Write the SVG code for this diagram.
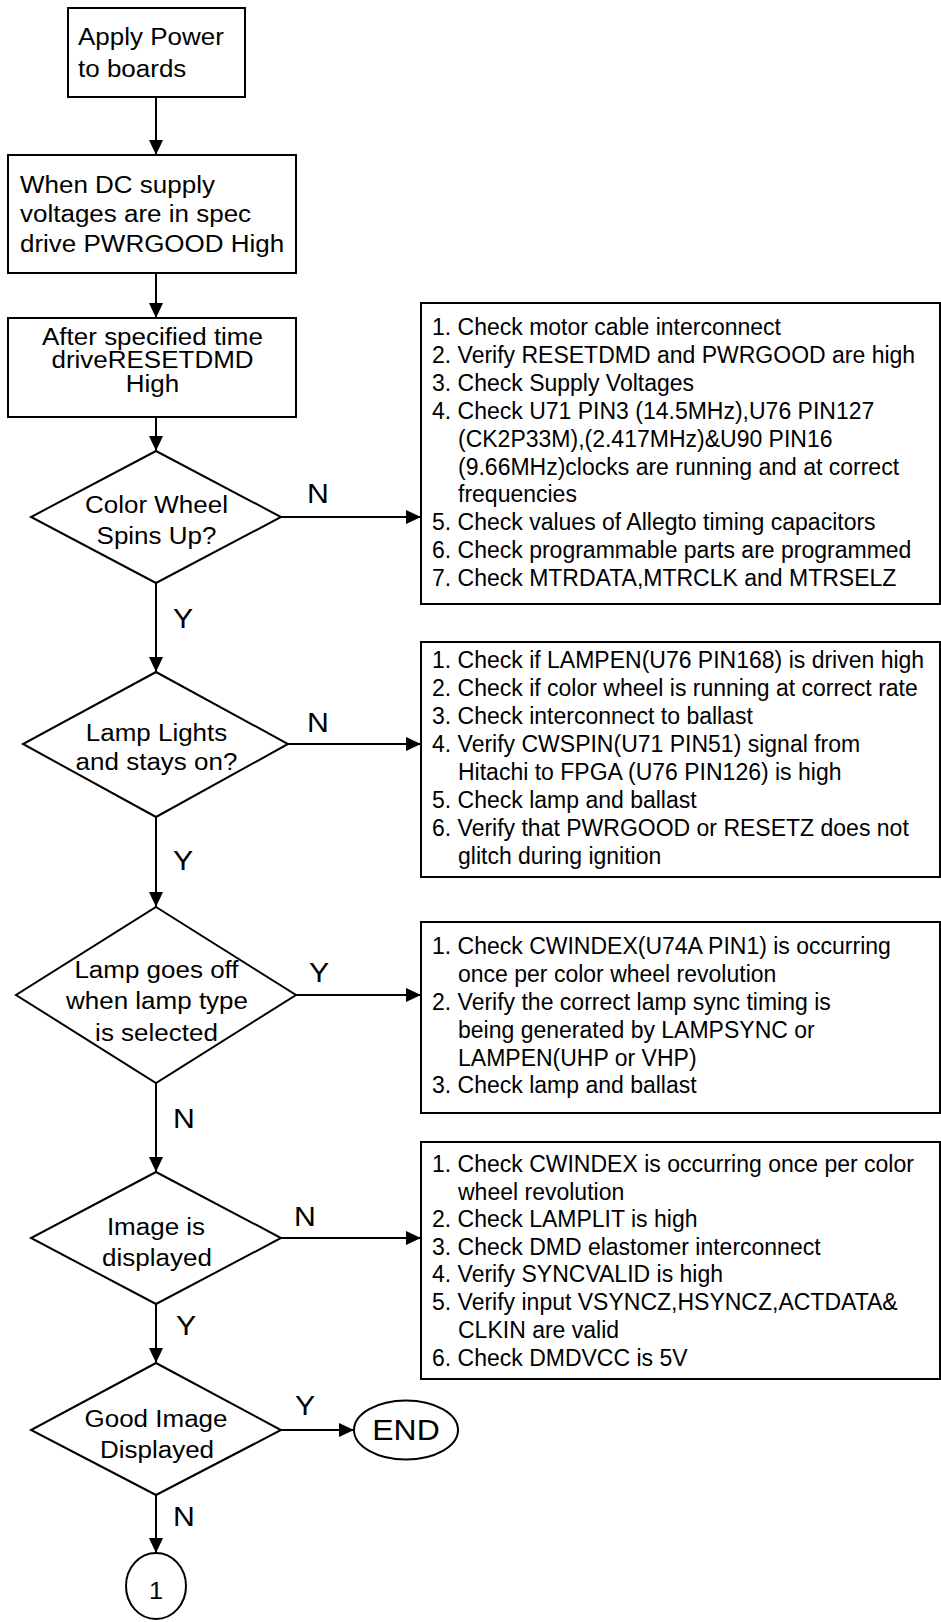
<svg xmlns="http://www.w3.org/2000/svg" width="941" height="1622" viewBox="0 0 941 1622">
<style>
.shape{fill:#fff;stroke:#000;stroke-width:2}
.con{fill:none;stroke:#000;stroke-width:2}
text{font-family:"Liberation Sans",Arial,sans-serif;fill:#000}
.L{font-size:23px}
.c{text-anchor:middle}
.lab{font-size:27px}
.R{font-size:23px}
</style>
<defs>
<marker id="ah" markerUnits="userSpaceOnUse" markerWidth="16" markerHeight="14" refX="15" refY="7" orient="auto">
<path d="M0,0 L15,7 L0,14 z" fill="#000"/>
</marker>
</defs>
<rect width="941" height="1622" fill="#fff"/>
<g id="connectors">
<line class="con" x1="156" y1="97" x2="156" y2="155" marker-end="url(#ah)"/>
<line class="con" x1="156" y1="273" x2="156" y2="318" marker-end="url(#ah)"/>
<line class="con" x1="156" y1="417" x2="156" y2="451" marker-end="url(#ah)"/>
<line class="con" x1="281" y1="517" x2="421" y2="517" marker-end="url(#ah)"/>
<line class="con" x1="156" y1="583" x2="156" y2="672" marker-end="url(#ah)"/>
<line class="con" x1="288" y1="744" x2="421" y2="744" marker-end="url(#ah)"/>
<line class="con" x1="156" y1="817" x2="156" y2="907" marker-end="url(#ah)"/>
<line class="con" x1="296" y1="995" x2="421" y2="995" marker-end="url(#ah)"/>
<line class="con" x1="156" y1="1083" x2="156" y2="1172" marker-end="url(#ah)"/>
<line class="con" x1="281" y1="1238" x2="421" y2="1238" marker-end="url(#ah)"/>
<line class="con" x1="156" y1="1304" x2="156" y2="1363" marker-end="url(#ah)"/>
<line class="con" x1="281" y1="1430" x2="354" y2="1430" marker-end="url(#ah)"/>
<line class="con" x1="156" y1="1495" x2="156" y2="1553" marker-end="url(#ah)"/>
<text class="lab" transform="translate(307,503) scale(1.12,1)">N</text>
<text class="lab" transform="translate(173,628) scale(1.12,1)">Y</text>
<text class="lab" transform="translate(307,732) scale(1.12,1)">N</text>
<text class="lab" transform="translate(173,870) scale(1.12,1)">Y</text>
<text class="lab" transform="translate(309,982) scale(1.12,1)">Y</text>
<text class="lab" transform="translate(173,1128) scale(1.12,1)">N</text>
<text class="lab" transform="translate(294,1226) scale(1.12,1)">N</text>
<text class="lab" transform="translate(176,1335) scale(1.12,1)">Y</text>
<text class="lab" transform="translate(295,1415) scale(1.12,1)">Y</text>
<text class="lab" transform="translate(173,1526) scale(1.12,1)">N</text>
</g>
<g id="start">
<rect class="shape" x="68" y="8" width="177" height="89"/>
<text class="L" transform="translate(78,45) scale(1.13,1)">Apply Power</text>
<text class="L" transform="translate(78,77) scale(1.13,1)">to boards</text>
</g>
<g id="pwrgood">
<rect class="shape" x="8" y="155" width="288" height="118"/>
<text class="L" transform="translate(20,193) scale(1.13,1)">When DC supply</text>
<text class="L" transform="translate(20,222) scale(1.13,1)">voltages are in spec</text>
<text class="L" transform="translate(20,252) scale(1.13,1)">drive PWRGOOD High</text>
</g>
<g id="resetdmd">
<rect class="shape" x="8" y="318" width="288" height="99"/>
<text class="L c" transform="translate(152.5,345) scale(1.13,1)">After specified time</text>
<text class="L c" transform="translate(152.5,368) scale(1.13,1)">driveRESETDMD</text>
<text class="L c" transform="translate(152.5,392) scale(1.13,1)">High</text>
</g>
<g id="dec-colorwheel">
<polygon class="shape" points="156,451 281,517 156,583 31,517"/>
<text class="L c" transform="translate(156.5,513) scale(1.13,1)">Color Wheel</text>
<text class="L c" transform="translate(156.5,544) scale(1.13,1)">Spins Up?</text>
</g>
<g id="dec-lamp">
<polygon class="shape" points="156,672 288,744 156,817 23,744"/>
<text class="L c" transform="translate(156.5,741) scale(1.13,1)">Lamp Lights</text>
<text class="L c" transform="translate(156.5,770) scale(1.13,1)">and stays on?</text>
</g>
<g id="dec-lampoff">
<polygon class="shape" points="156,907 296,995 156,1083 16,995"/>
<text class="L c" transform="translate(156.5,978) scale(1.13,1)">Lamp goes off</text>
<text class="L c" transform="translate(157,1009) scale(1.13,1)">when lamp type</text>
<text class="L c" transform="translate(156.5,1041) scale(1.13,1)">is selected</text>
</g>
<g id="dec-image">
<polygon class="shape" points="156,1172 281,1238 156,1304 31,1238"/>
<text class="L c" transform="translate(156,1235) scale(1.13,1)">Image is</text>
<text class="L c" transform="translate(157,1266) scale(1.13,1)">displayed</text>
</g>
<g id="dec-goodimage">
<polygon class="shape" points="156,1363 281,1430 156,1495 31,1430"/>
<text class="L c" transform="translate(156,1427) scale(1.13,1)">Good Image</text>
<text class="L c" transform="translate(157,1458) scale(1.13,1)">Displayed</text>
</g>
<g id="end">
<ellipse class="shape" cx="406" cy="1430" rx="52" ry="29.5"/>
<text class="c" style="font-size:29px" transform="translate(406,1440) scale(1.1,1)">END</text>
</g>
<g id="connector-1">
<ellipse class="shape" cx="156" cy="1586" rx="30" ry="33"/>
<text class="c" style="font-size:23px" transform="translate(156,1599) scale(1.1,1)">1</text>
</g>
<g id="checks-colorwheel">
<rect class="shape" x="421" y="303" width="519" height="301"/>
<text class="R" x="432" y="335">1. Check motor cable interconnect</text>
<text class="R" x="432" y="362.9">2. Verify RESETDMD and PWRGOOD are high</text>
<text class="R" x="432" y="390.8">3. Check Supply Voltages</text>
<text class="R" x="432" y="418.7">4. Check U71 PIN3 (14.5MHz),U76 PIN127</text>
<text class="R" x="458" y="446.6">(CK2P33M),(2.417MHz)&amp;U90 PIN16</text>
<text class="R" x="458" y="474.5">(9.66MHz)clocks are running and at correct</text>
<text class="R" x="458" y="502.4">frequencies</text>
<text class="R" x="432" y="530.3">5. Check values of Allegto timing capacitors</text>
<text class="R" x="432" y="558.2">6. Check programmable parts are programmed</text>
<text class="R" x="432" y="586.1">7. Check MTRDATA,MTRCLK and MTRSELZ</text>
</g>
<g id="checks-lamp">
<rect class="shape" x="421" y="642" width="519" height="235"/>
<text class="R" x="432" y="668">1. Check if LAMPEN(U76 PIN168) is driven high</text>
<text class="R" x="432" y="696">2. Check if color wheel is running at correct rate</text>
<text class="R" x="432" y="724">3. Check interconnect to ballast</text>
<text class="R" x="432" y="752">4. Verify CWSPIN(U71 PIN51) signal from</text>
<text class="R" x="458" y="780">Hitachi to FPGA (U76 PIN126) is high</text>
<text class="R" x="432" y="808">5. Check lamp and ballast</text>
<text class="R" x="432" y="836">6. Verify that PWRGOOD or RESETZ does not</text>
<text class="R" x="458" y="864">glitch during ignition</text>
</g>
<g id="checks-lampoff">
<rect class="shape" x="421" y="922" width="519" height="191"/>
<text class="R" x="432" y="954">1. Check CWINDEX(U74A PIN1) is occurring</text>
<text class="R" x="458" y="982">once per color wheel revolution</text>
<text class="R" x="432" y="1009.5">2. Verify the correct lamp sync timing is</text>
<text class="R" x="458" y="1037.5">being generated by LAMPSYNC or</text>
<text class="R" x="458" y="1065.5">LAMPEN(UHP or VHP)</text>
<text class="R" x="432" y="1093">3. Check lamp and ballast</text>
</g>
<g id="checks-image">
<rect class="shape" x="421" y="1142" width="519" height="237"/>
<text class="R" x="432" y="1172">1. Check CWINDEX is occurring once per color</text>
<text class="R" x="458" y="1199.5">wheel revolution</text>
<text class="R" x="432" y="1227">2. Check LAMPLIT is high</text>
<text class="R" x="432" y="1254.5">3. Check DMD elastomer interconnect</text>
<text class="R" x="432" y="1282">4. Verify SYNCVALID is high</text>
<text class="R" x="432" y="1310">5. Verify input VSYNCZ,HSYNCZ,ACTDATA&amp;</text>
<text class="R" x="458" y="1338">CLKIN are valid</text>
<text class="R" x="432" y="1366">6. Check DMDVCC is 5V</text>
</g>
</svg>
